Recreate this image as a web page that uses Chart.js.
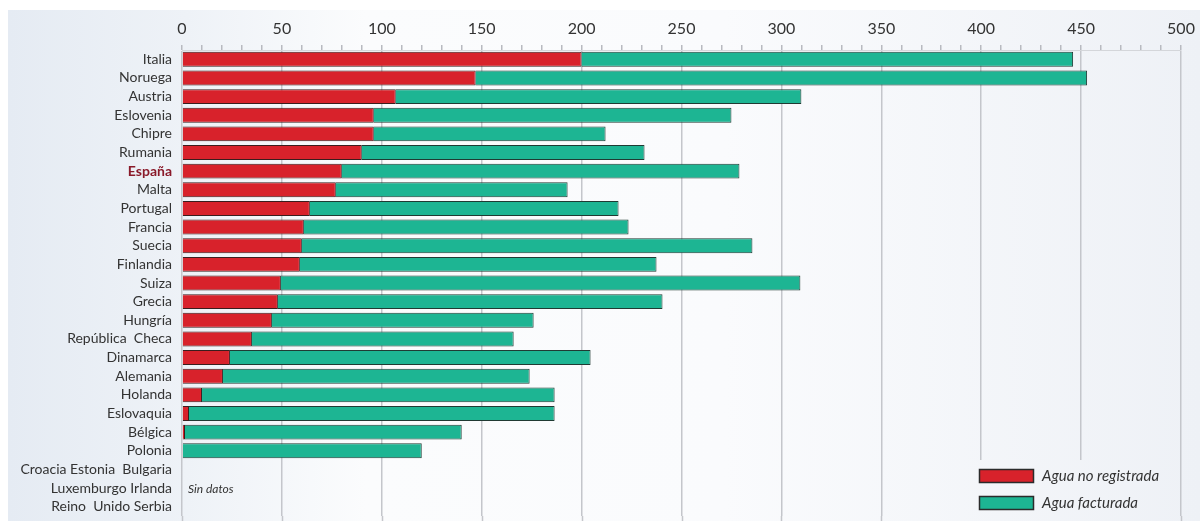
<!DOCTYPE html>
<html>
<head>
<meta charset="utf-8">
<script src="https://cdn.jsdelivr.net/npm/chart.js@4/dist/chart.umd.min.js"></script>
<style>
html,body{margin:0;padding:0;background:#fff;}
#wrap{width:1200px;height:521px;position:relative;}
</style>
</head>
<body>
<div id="wrap"><canvas id="c" width="1200" height="521"></canvas></div>
<script>
const categories = ["Italia","Noruega","Austria","Eslovenia","Chipre","Rumania","España","Malta","Portugal","Francia","Suecia","Finlandia","Suiza","Grecia","Hungría","República  Checa","Dinamarca","Alemania","Holanda","Eslovaquia","Bélgica","Polonia","Croacia Estonia  Bulgaria","Luxemburgo Irlanda","Reino  Unido Serbia"];
const aguaNoRegistrada = [200,147,107,96,96,90,80,77,64,61,60,59,49.5,48,45,35,24,20.5,10,3.5,1.5,0.5,null,null,null];
const aguaFacturada = [246,306,203,179,116,141.5,199,116,154.5,162.5,225.5,178.5,260,192.5,131,131,180.5,153.5,176.5,183,138.5,119.5,null,null,null];
const seriesNames = ["Agua no registrada","Agua facturada"];
const noDataText = "Sin datos";
const noDataRow = 23;
const highlighted = "España";

function panelGradient(ctx){
  const g = ctx.createLinearGradient(8,0,1200,0);
  g.addColorStop(0,'#e5ebf3');
  g.addColorStop(0.15,'#eef2f7');
  g.addColorStop(0.3,'#fbfcfd');
  g.addColorStop(0.6,'#fafbfd');
  g.addColorStop(1,'#eef1f6');
  return g;
}

const bgPlugin = {
  id:'bg',
  beforeDraw(chart){
    const ctx = chart.ctx;
    ctx.save();
    ctx.fillStyle='#ffffff';
    ctx.fillRect(0,0,chart.width,chart.height);
    ctx.fillStyle=panelGradient(ctx);
    ctx.fillRect(8,10,chart.width-8,chart.height-10);
    ctx.restore();
  },
  afterDraw(chart){
    const ctx = chart.ctx;
    const xs = chart.scales.x, ys = chart.scales.y;
    ctx.save();
    ctx.strokeStyle='#c4c6cb'; ctx.lineWidth=1.5;
    for(let v=0; v<=500; v+=50){
      const px = Math.round(xs.getPixelForValue(v))+0.5;
      ctx.beginPath(); ctx.moveTo(px, chart.chartArea.bottom); ctx.lineTo(px, chart.height); ctx.stroke();
    }
    ctx.fillStyle='#333';
    ctx.font='italic 12px Lato';
    ctx.textBaseline='middle';
    ctx.textAlign='left';
    ctx.fillText(noDataText, xs.getPixelForValue(0)+6, ys.getPixelForValue(noDataRow)+1);
    ctx.fillStyle=panelGradient(ctx);
    ctx.fillRect(962,460,214,61);
    const ds = chart.data.datasets;
    const rows=[476,503];
    ds.forEach((d,i)=>{
      const y=rows[i];
      ctx.fillStyle=d.backgroundColor;
      ctx.fillRect(979,y-7,55,14);
      ctx.strokeStyle='#2b2b2b'; ctx.lineWidth=1.5;
      ctx.strokeRect(979.5,y-6.5,54,13);
      ctx.fillStyle='#333';
      ctx.font='italic 15px Lato';
      ctx.fillText(d.label, 1042, y);
    });
    ctx.restore();
  }
};

new Chart(document.getElementById('c'),{
  type:'bar',
  data:{
    labels:categories,
    datasets:[
      {label:seriesNames[0],data:aguaNoRegistrada,backgroundColor:'#d8222b',borderColor:'#3a1d1d',borderWidth:1,barPercentage:0.8,categoryPercentage:1},
      {label:seriesNames[1],data:aguaFacturada,backgroundColor:'#1db593',borderColor:'#203a33',borderWidth:1,barPercentage:0.8,categoryPercentage:1}
    ]
  },
  options:{
    indexAxis:'y',
    responsive:false,
    animation:false,
    layout:{padding:{left:0,right:19,top:0,bottom:5}},
    plugins:{legend:{display:false},tooltip:{enabled:false}},
    scales:{
      x:{
        type:'linear',position:'top',stacked:true,min:0,max:500,
        afterFit(s){s.height=50; s.paddingLeft=0; s.paddingRight=0;},
        ticks:{stepSize:10,autoSkip:false,maxRotation:0,padding:7,color:'#333',font:{family:'Lato',size:16},
          callback:(v)=> (v%50===0? String(v):'')},
        grid:{
          color:(c)=> (c.tick && c.tick.value%50===0 ? '#c4c6cb':'rgba(0,0,0,0)'),
          lineWidth:1.5,
          tickColor:'#b8bac0',tickLength:5,drawTicks:true
        },
        border:{display:true,color:'#d4d6da',width:1}
      },
      y:{
        stacked:true,
        afterFit(s){s.width=182; s.paddingTop=0; s.paddingBottom=0;},
        grid:{display:false,drawTicks:false},
        border:{display:false},
        ticks:{padding:10,autoSkip:false,
          color:(c)=> (categories[c.index]===highlighted ? '#8a1a2a':'#333'),
          font:(c)=> (categories[c.index]===highlighted ? {family:'Lato',size:14,weight:'bold'}:{family:'Lato',size:14})
        }
      }
    }
  },
  plugins:[bgPlugin]
});
</script>
</body>
</html>
